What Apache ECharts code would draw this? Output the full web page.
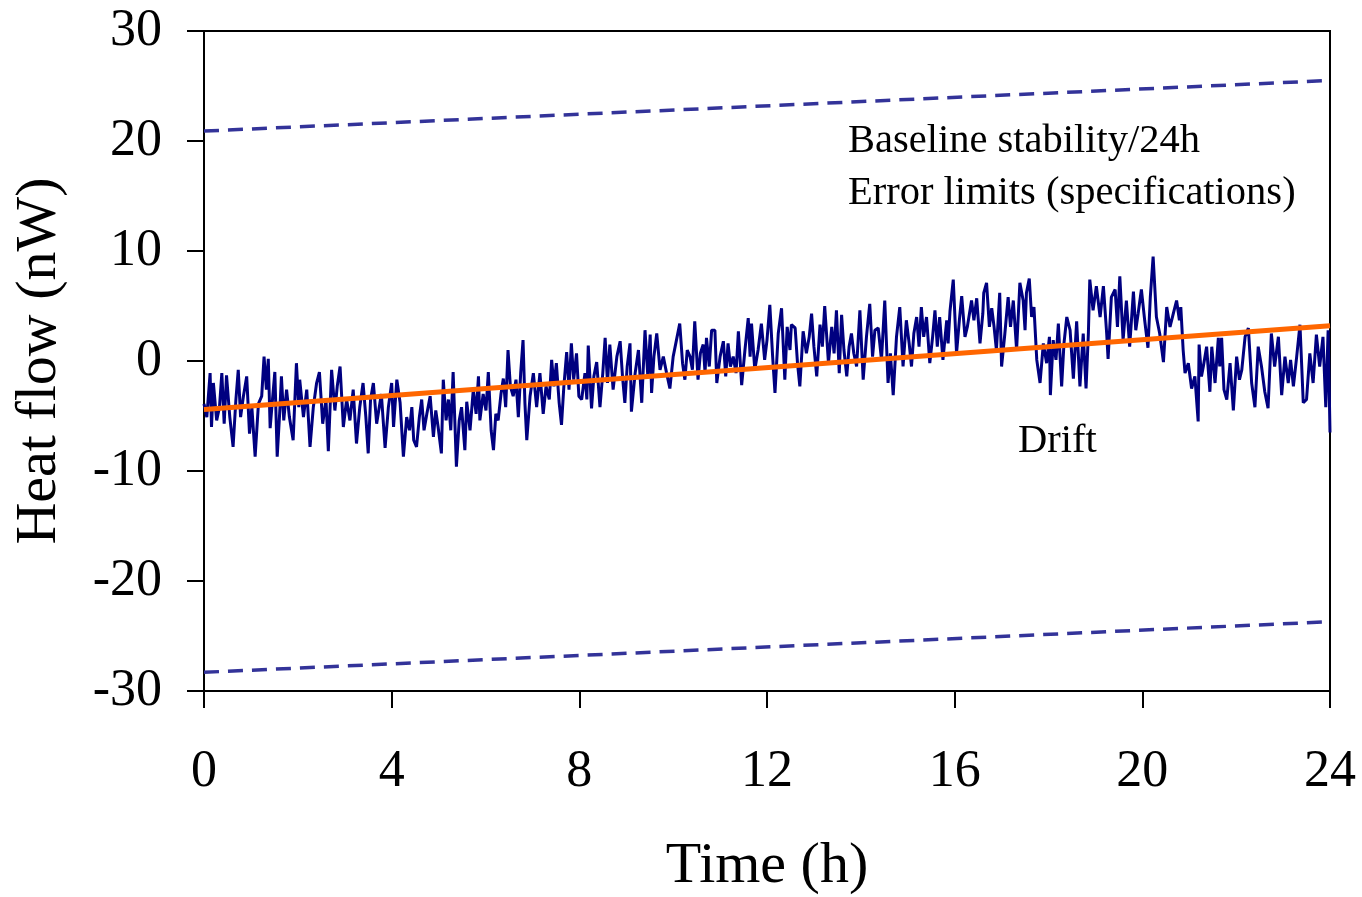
<!DOCTYPE html>
<html>
<head>
<meta charset="utf-8">
<script src="https://cdn.jsdelivr.net/npm/echarts@6/dist/echarts.min.js"></script>
<style>
html,body{margin:0;padding:0;background:#fff;}
#chart{width:1362px;height:897px;}
</style>
</head>
<body>
<div id="chart"></div>
<script>
// Heat flow trace, [time (h), heat flow (nW)]
const trace0to4 = [[0.00,-3.9],[0.06,-5.1],[0.13,-1.1],[0.16,-6.0],[0.20,-2.0],[0.27,-5.4],[0.33,-4.2],[0.38,-1.1],[0.43,-5.7],[0.48,-1.3],[0.55,-5.1],[0.62,-7.8],[0.68,-3.5],[0.73,-0.8],[0.78,-5.1],[0.84,-3.2],[0.91,-1.4],[0.97,-6.6],[1.02,-4.2],[1.09,-8.7],[1.16,-3.9],[1.23,-3.2],[1.28,0.4],[1.33,-2.6],[1.37,0.2],[1.41,-6.1],[1.46,-3.5],[1.51,-1.0],[1.56,-8.7],[1.62,-4.2],[1.65,-1.4],[1.70,-5.4],[1.76,-2.6],[1.82,-5.1],[1.90,-7.2],[1.97,-0.2],[2.02,-4.2],[2.04,-1.7],[2.12,-5.1],[2.19,-2.6],[2.26,-7.8],[2.33,-4.2],[2.40,-2.0],[2.46,-1.0],[2.53,-5.7],[2.60,-3.5],[2.65,-8.2],[2.72,-0.8],[2.79,-4.5],[2.84,-2.3],[2.90,-0.5],[2.97,-6.0],[3.04,-3.5],[3.11,-5.4],[3.18,-2.6],[3.25,-7.5],[3.32,-4.2],[3.39,-2.0],[3.45,-5.1],[3.50,-8.4],[3.55,-3.5],[3.61,-2.0],[3.68,-5.7],[3.78,-3.0],[3.86,-7.9],[3.93,-4.2],[4.00,-2.0],[4.04,-6.0],[4.11,-1.7]];
const trace4to8 = [[4.18,-3.8],[4.25,-8.7],[4.32,-5.1],[4.38,-6.3],[4.43,-4.2],[4.47,-7.2],[4.53,-7.8],[4.59,-5.1],[4.64,-3.5],[4.69,-6.3],[4.75,-4.8],[4.82,-3.2],[4.89,-6.9],[4.94,-4.5],[4.99,-6.0],[5.06,-8.4],[5.10,-1.7],[5.16,-5.4],[5.21,-3.5],[5.26,-6.3],[5.31,-1.0],[5.38,-9.6],[5.44,-5.4],[5.49,-4.2],[5.56,-8.1],[5.60,-3.7],[5.67,-6.3],[5.74,-2.6],[5.80,-4.8],[5.85,-1.4],[5.88,-5.4],[5.95,-3.0],[6.01,-4.5],[6.06,-1.0],[6.12,-6.3],[6.17,-8.1],[6.22,-4.8],[6.27,-5.4],[6.33,-3.0],[6.38,-1.6],[6.43,-4.2],[6.48,1.0],[6.53,-2.3],[6.59,-3.2],[6.65,-1.7],[6.70,-5.1],[6.75,-1.1],[6.80,1.9],[6.84,-3.8],[6.88,-7.2],[6.95,-3.2],[7.02,-1.1],[7.09,-4.2],[7.16,-1.1],[7.23,-4.8],[7.29,-2.3],[7.36,-3.5],[7.41,0.1],[7.46,-2.3],[7.51,-0.2],[7.57,-3.8],[7.62,-5.8],[7.67,-2.3],[7.73,0.8],[7.78,-2.6],[7.83,1.6],[7.88,-1.7],[7.94,0.7],[7.99,-3.2],[8.05,-3.5],[8.12,-1.1]];
const trace8to12 = [[8.16,-3.5],[8.19,1.4],[8.26,-4.3],[8.31,-1.4],[8.37,-0.1],[8.44,-4.2],[8.50,-1.1],[8.55,2.1],[8.60,-2.0],[8.65,1.5],[8.72,-2.6],[8.80,0.4],[8.87,1.8],[8.92,-1.4],[8.97,-3.8],[9.02,-0.5],[9.08,1.6],[9.11,-4.6],[9.19,-1.1],[9.26,1.0],[9.33,-3.8],[9.40,2.8],[9.46,-1.4],[9.51,2.4],[9.54,-2.9],[9.59,0.4],[9.65,2.5],[9.72,-0.8],[9.79,0.4],[9.86,-1.1],[9.93,-2.5],[10.00,0.4],[10.07,1.9],[10.14,3.4],[10.20,-0.2],[10.25,-1.7],[10.30,1.0],[10.36,0.4],[10.41,-0.8],[10.46,3.6],[10.53,-1.7],[10.58,0.7],[10.64,1.5],[10.68,-1.1],[10.71,2.1],[10.77,-0.5],[10.82,2.8],[10.89,2.8],[10.93,-2.0],[11.00,0.4],[11.07,1.8],[11.12,-1.4],[11.17,1.6],[11.22,-0.5],[11.28,0.4],[11.34,-1.1],[11.39,2.7],[11.46,-2.2],[11.53,1.0],[11.60,3.9],[11.64,0.4],[11.67,3.4],[11.74,-0.8],[11.81,1.0],[11.88,3.4],[11.95,0.1],[12.00,1.9],[12.06,5.1],[12.12,0.4],[12.17,-2.9]];
const trace12to16 = [[12.24,2.5],[12.31,4.8],[12.38,-1.7],[12.43,3.1],[12.49,1.0],[12.52,3.3],[12.60,3.0],[12.65,-0.2],[12.70,-2.3],[12.77,2.7],[12.84,0.7],[12.90,2.2],[12.95,4.3],[13.00,1.3],[13.06,-1.4],[13.13,3.3],[13.18,1.3],[13.23,5.0],[13.31,-0.2],[13.38,3.1],[13.43,0.7],[13.48,4.6],[13.54,-1.1],[13.59,4.2],[13.64,1.0],[13.70,-1.4],[13.75,1.3],[13.80,2.5],[13.85,0.7],[13.91,-0.5],[13.98,4.6],[14.05,-1.7],[14.12,2.2],[14.19,5.2],[14.25,0.4],[14.30,2.8],[14.37,3.0],[14.44,0.1],[14.51,5.5],[14.58,-2.0],[14.63,0.7],[14.69,-3.1],[14.76,2.2],[14.83,4.9],[14.90,-0.5],[14.97,3.7],[15.03,1.6],[15.08,-0.5],[15.13,2.5],[15.19,4.0],[15.24,1.3],[15.29,4.9],[15.34,2.2],[15.40,4.0],[15.47,-0.2],[15.53,2.2],[15.58,4.6],[15.63,1.3],[15.68,4.0],[15.75,0.1],[15.83,3.7],[15.86,1.6],[15.90,4.5],[15.97,7.4],[16.04,0.7],[16.10,3.7],[16.15,5.9],[16.22,2.2],[16.27,3.1]];
const trace16to20 = [[16.36,5.5],[16.41,3.7],[16.47,5.7],[16.54,1.6],[16.60,4.3],[16.62,6.2],[16.68,7.1],[16.74,3.1],[16.79,4.8],[16.84,3.1],[16.89,1.0],[16.96,6.2],[17.00,-0.5],[17.07,2.5],[17.14,5.8],[17.19,3.1],[17.25,5.5],[17.32,1.0],[17.39,7.1],[17.46,5.5],[17.50,2.8],[17.53,6.2],[17.59,7.5],[17.64,4.0],[17.69,4.9],[17.75,0.1],[17.82,-2.0],[17.89,1.6],[17.96,-0.2],[18.02,2.2],[18.04,-3.1],[18.10,1.9],[18.16,0.1],[18.21,3.4],[18.28,-2.3],[18.33,1.6],[18.39,4.0],[18.46,2.8],[18.53,-1.6],[18.60,3.6],[18.67,-2.3],[18.74,2.5],[18.80,-2.5],[18.85,2.5],[18.88,7.4],[18.95,4.6],[19.02,6.8],[19.10,4.0],[19.17,6.8],[19.24,2.5],[19.27,0.2],[19.34,5.8],[19.42,6.5],[19.47,3.1],[19.52,7.7],[19.59,1.9],[19.66,5.5],[19.73,1.3],[19.81,6.3],[19.86,2.8],[19.91,4.3],[19.98,6.5],[20.05,3.7],[20.12,1.2],[20.17,5.8],[20.23,9.5],[20.30,4.0]];
const trace20to24 = [[20.37,2.5],[20.45,-0.1],[20.52,4.9],[20.59,3.1],[20.66,4.3],[20.73,5.5],[20.79,3.7],[20.82,4.9],[20.87,1.0],[20.91,-1.1],[20.98,-0.2],[21.05,-2.5],[21.12,-1.4],[21.19,-5.5],[21.21,1.5],[21.26,-1.4],[21.30,-0.5],[21.37,1.3],[21.44,-2.8],[21.48,1.3],[21.55,-2.0],[21.62,2.1],[21.65,-0.5],[21.69,2.1],[21.74,-2.6],[21.80,-3.5],[21.87,-0.2],[21.94,-4.5],[22.01,0.4],[22.07,-1.7],[22.12,-0.8],[22.19,2.2],[22.26,3.0],[22.33,-2.0],[22.40,-4.2],[22.47,1.3],[22.54,-0.5],[22.61,-2.8],[22.68,-4.3],[22.75,2.5],[22.82,-0.5],[22.90,2.2],[22.97,-3.1],[23.04,0.4],[23.11,-2.0],[23.16,0.1],[23.22,-2.3],[23.29,0.4],[23.36,3.3],[23.43,-3.8],[23.50,-3.5],[23.57,0.7],[23.64,-2.0],[23.71,2.4],[23.78,-0.5],[23.85,2.2],[23.91,-4.2],[23.96,2.8],[24.00,-6.5]];

// Straight lines: [start hour, end hour] with their values
const lineHours = [0, 24];
const driftValues = [-4.4, 3.2];
const upperLimitValues = [20.9, 25.5];
const lowerLimitValues = [-28.3, -23.7];

const xTicks = [0, 4, 8, 12, 16, 20, 24];
const yTicks = [-30, -20, -10, 0, 10, 20, 30];

const trace = [].concat(trace0to4, trace4to8, trace8to12, trace12to16, trace16to20, trace20to24);
const pairs = vals => lineHours.map((h, i) => [h, vals[i]]);

const FONT = 'Liberation Serif';
const chart = echarts.init(document.getElementById('chart'), null, {renderer: 'canvas'});
chart.setOption({
  animation: false,
  backgroundColor: '#fff',
  grid: {left: 204, top: 31, right: 32, bottom: 206, show: true, borderColor: '#000', borderWidth: 2, outerBoundsMode: 'none', containLabel: false},
  xAxis: {
    type: 'value', min: xTicks[0], max: xTicks[xTicks.length - 1], interval: 4,
    name: 'Time (h)', nameLocation: 'middle', nameGap: 147,
    nameTextStyle: {fontFamily: FONT, fontSize: 58, color: '#000'},
    axisLine: {show: true, onZero: false, lineStyle: {color: '#000', width: 2}},
    axisTick: {show: true, length: 17, lineStyle: {color: '#000', width: 2}},
    axisLabel: {fontFamily: FONT, fontSize: 52, color: '#000', margin: 55},
    splitLine: {show: false}
  },
  yAxis: {
    type: 'value', min: yTicks[0], max: yTicks[yTicks.length - 1], interval: 10,
    name: 'Heat flow (nW)', nameLocation: 'middle', nameGap: 135, nameRotate: 90,
    nameTextStyle: {fontFamily: FONT, fontSize: 58, color: '#000'},
    axisLine: {show: true, onZero: false, lineStyle: {color: '#000', width: 2}},
    axisTick: {show: true, length: 17, lineStyle: {color: '#000', width: 2}},
    axisLabel: {fontFamily: FONT, fontSize: 52, color: '#000', margin: 42},
    splitLine: {show: false}
  },
  series: [
    {type: 'line', data: trace, showSymbol: false, lineStyle: {color: '#000080', width: 3}, z: 2},
    {type: 'line', data: pairs(driftValues), showSymbol: false, lineStyle: {color: '#FF6600', width: 5}, z: 3},
    {type: 'line', data: pairs(upperLimitValues), showSymbol: false, lineStyle: {color: '#333399', width: 3.5, type: [15, 9]}, z: 2},
    {type: 'line', data: pairs(lowerLimitValues), showSymbol: false, lineStyle: {color: '#333399', width: 3.5, type: [15, 9]}, z: 2}
  ],
  graphic: [
    {type: 'text', left: 848, top: 121, style: {text: 'Baseline stability/24h', font: '40.5px "Liberation Serif"', fill: '#000'}},
    {type: 'text', left: 848, top: 173, style: {text: 'Error limits (specifications)', font: '40.5px "Liberation Serif"', fill: '#000'}},
    {type: 'text', left: 1018, top: 421, style: {text: 'Drift', font: '40.5px "Liberation Serif"', fill: '#000'}}
  ]
});
</script>
</body>
</html>
